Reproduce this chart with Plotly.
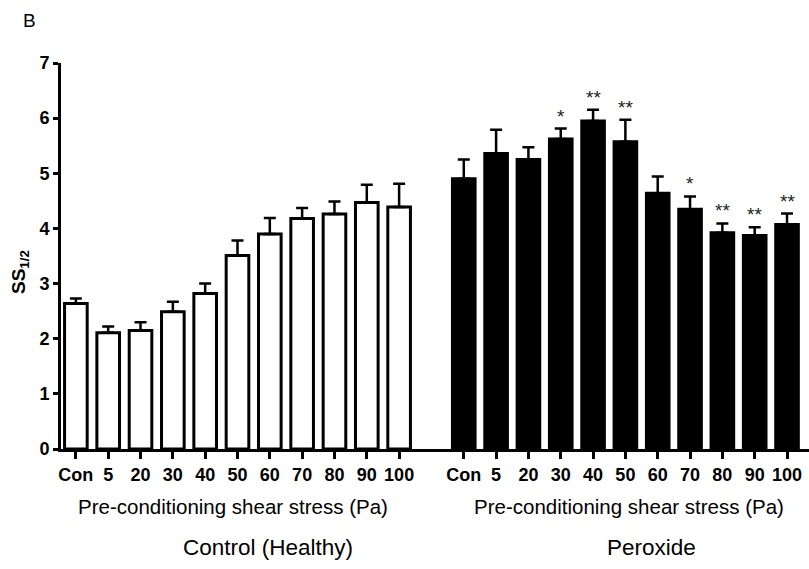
import plotly.graph_objects as go

categories = ["Con", "5", "20", "30", "40", "50", "60", "70", "80", "90", "100"]
control_vals = [2.64, 2.11, 2.15, 2.49, 2.82, 3.51, 3.90, 4.18, 4.26, 4.47, 4.39]
control_err = [0.09, 0.11, 0.15, 0.18, 0.18, 0.27, 0.29, 0.19, 0.23, 0.32, 0.42]
peroxide_vals = [4.90, 5.36, 5.25, 5.62, 5.95, 5.57, 4.64, 4.35, 3.92, 3.87, 4.07]
peroxide_err = [0.35, 0.43, 0.22, 0.19, 0.20, 0.40, 0.30, 0.23, 0.17, 0.15, 0.20]
peroxide_sig = ["", "", "", "*", "**", "**", "", "*", "**", "**", "**"]

y_ticks = [0, 1, 2, 3, 4, 5, 6, 7]

n = len(categories)
x_ctrl = list(range(n))
x_perox = [i + n + 1 for i in range(n)]

FONT = "Arial, Liberation Sans, sans-serif"

fig = go.Figure()
fig.add_trace(go.Bar(
    x=x_ctrl, y=control_vals, width=0.7,
    marker=dict(color="white", line=dict(color="black", width=3)),
    error_y=dict(type="data", array=control_err, arrayminus=[0] * n, symmetric=False,
                 color="black", thickness=2.5, width=6),
    showlegend=False,
))
fig.add_trace(go.Bar(
    x=x_perox, y=peroxide_vals, width=0.7,
    marker=dict(color="black", line=dict(color="black", width=3)),
    error_y=dict(type="data", array=peroxide_err, arrayminus=[0] * n, symmetric=False,
                 color="black", thickness=2.5, width=6),
    showlegend=False,
))

annotations = []
for xi, v, e, s in zip(x_perox, peroxide_vals, peroxide_err, peroxide_sig):
    if s:
        annotations.append(dict(x=xi, y=v + e, xref="x", yref="y", text=s, showarrow=False,
                                yanchor="bottom", yshift=0,
                                font=dict(family=FONT, size=19, color="#222")))

W, H = 809, 569
L, R, T, B = 61, 0, 63, 120
PW, PH = W - L - R, H - T - B

def px(xp, yp):
    return (xp - L) / PW, (H - B - yp) / PH

fig.update_layout(
    width=W, height=H,
    margin=dict(l=L, r=R, t=T, b=B),
    plot_bgcolor="white", paper_bgcolor="white",
    xaxis=dict(
        range=[-0.46, 2 * n + 0.68],
        tickvals=x_ctrl + x_perox,
        ticktext=categories + categories,
        showline=True, linecolor="black", linewidth=3,
        ticks="outside", ticklen=7, tickwidth=2.5, tickcolor="black",
        tickfont=dict(family=FONT, size=18, color="black", weight="bold"),
        showgrid=False, zeroline=False, fixedrange=True,
    ),
    yaxis=dict(
        range=[0, 7],
        tickvals=y_ticks,
        showline=True, linecolor="black", linewidth=3,
        ticks="outside", ticklen=5, tickwidth=2.5, tickcolor="black",
        tickfont=dict(family=FONT, size=18, color="black", weight="bold"),
        showgrid=False, zeroline=False, fixedrange=True,
    ),
)

ax, ay = px(20, 272)
annotations.append(dict(x=ax, y=ay, xref="paper", yref="paper", text="SS<sub>1/2</sub>",
                        textangle=-90, showarrow=False, xanchor="center", yanchor="middle",
                        font=dict(family=FONT, size=19, color="black", weight="bold")))
bx, by = px(21, 20)
annotations.append(dict(x=bx, y=by, xref="paper", yref="paper", text="B", showarrow=False,
                        xanchor="left", yanchor="middle",
                        font=dict(family=FONT, size=19, color="black")))
for cx, label in [(233, "Pre-conditioning shear stress (Pa)"), (629, "Pre-conditioning shear stress (Pa)")]:
    tx, ty = px(cx, 506)
    annotations.append(dict(x=tx, y=ty, xref="paper", yref="paper", text=label, showarrow=False,
                            xanchor="center", yanchor="middle",
                            font=dict(family=FONT, size=20.5, color="black")))
for cx, label in [(268, "Control (Healthy)"), (651, "Peroxide")]:
    tx, ty = px(cx, 547)
    annotations.append(dict(x=tx, y=ty, xref="paper", yref="paper", text=label, showarrow=False,
                            xanchor="center", yanchor="middle",
                            font=dict(family=FONT, size=22.5, color="black")))

fig.update_layout(annotations=annotations)
fig.write_html("out.html")
